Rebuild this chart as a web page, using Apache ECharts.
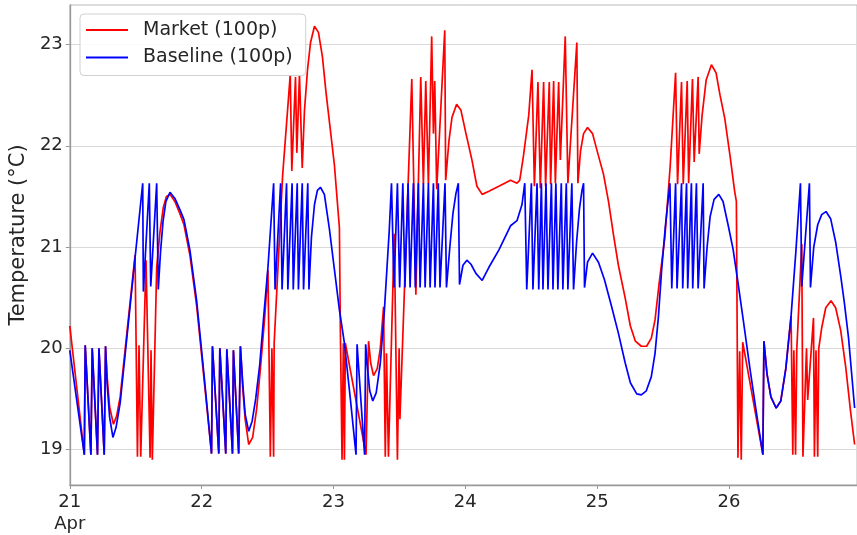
<!DOCTYPE html>
<html>
<head>
<meta charset="utf-8">
<script src="https://cdn.jsdelivr.net/npm/echarts@6/dist/echarts.min.js"></script>
<style>
html,body{margin:0;padding:0;background:#fff;}
#chart{width:857px;height:535px;}
</style>
</head>
<body>
<div id="chart"></div>
<script>
// ---- data (x = day of April, y = temperature in °C) ----
const seriesNames = ['Market (100p)', 'Baseline (100p)'];

const xTicks = [21, 22, 23, 24, 25, 26];
const xTickLabels = ['21\nApr', '22', '23', '24', '25', '26'];
const yTicks = [19, 20, 21, 22, 23];
const yTickLabels = ['19', '20', '21', '22', '23'];

const baselineTimes = [
21.000,21.110,21.117,21.160,21.170,21.210,21.221,21.261,21.271,21.283,21.302,21.327,21.351,21.382,
21.553,21.558,21.603,21.614,21.659,21.671,21.688,21.707,21.729,21.760,21.797,21.835,21.866,21.911,21.962,
22.024,22.075,22.082,22.130,22.138,22.183,22.191,22.234,22.241,22.281,22.294,22.312,22.330,22.357,22.383,
22.410,22.440,22.470,22.503,22.546,22.557,22.599,22.610,22.644,22.654,22.686,22.695,22.725,22.734,22.763,
22.773,22.805,22.814,22.833,22.856,22.878,22.901,22.931,22.969,23.007,23.045,23.083,23.128,23.171,23.179,
23.236,23.244,23.260,23.275,23.298,23.324,23.355,23.385,23.423,23.440,23.459,23.485,23.502,23.526,23.542,
23.566,23.581,23.606,23.621,23.644,23.657,23.682,23.695,23.720,23.733,23.758,23.770,23.795,23.808,23.846,
23.857,23.884,23.906,23.929,23.947,23.956,23.982,24.012,24.043,24.080,24.128,24.179,24.254,24.343,24.392,
24.430,24.451,24.466,24.501,24.513,24.544,24.557,24.577,24.589,24.612,24.627,24.653,24.665,24.687,24.702,
24.728,24.740,24.766,24.778,24.808,24.821,24.844,24.866,24.885,24.897,24.904,24.927,24.965,25.010,25.055,
25.108,25.161,25.212,25.252,25.300,25.335,25.373,25.411,25.439,25.464,25.489,25.517,25.552,25.566,25.595,
25.606,25.640,25.649,25.678,25.687,25.715,25.725,25.753,25.766,25.804,25.811,25.834,25.857,25.887,25.923,
25.955,25.993,26.031,26.068,26.106,26.159,26.204,26.257,26.265,26.288,26.318,26.358,26.393,26.431,26.471,
26.507,26.542,26.552,26.610,26.618,26.643,26.673,26.703,26.736,26.771,26.809,26.849,26.875,26.907,26.953
];
const baselineTemps = [
19.98,18.95,20.03,18.95,20.00,18.95,20.00,18.95,20.02,19.65,19.32,19.12,19.22,19.46,
21.63,20.56,21.63,20.61,21.63,20.58,20.95,21.25,21.45,21.54,21.48,21.37,21.27,20.97,20.47,
19.66,18.96,20.02,18.96,20.00,18.96,19.99,18.96,19.98,18.96,20.02,19.65,19.35,19.18,19.28,
19.50,19.83,20.30,20.80,21.63,20.58,21.63,20.58,21.63,20.58,21.63,20.58,21.63,20.58,21.63,
20.58,21.63,20.58,21.10,21.42,21.56,21.59,21.52,21.18,20.78,20.38,20.05,19.50,18.95,20.04,
18.95,20.04,19.78,19.58,19.48,19.56,19.85,20.35,21.16,21.63,20.60,21.63,20.60,21.63,20.60,
21.63,20.60,21.63,20.60,21.63,20.60,21.63,20.60,21.63,20.60,21.63,20.60,21.63,20.60,21.63,
20.60,21.02,21.33,21.53,21.63,20.63,20.82,20.87,20.83,20.74,20.67,20.80,20.97,21.21,21.26,
21.42,21.63,20.58,21.63,20.58,21.63,20.58,21.63,20.58,21.63,20.58,21.63,20.58,21.63,20.58,
21.63,20.58,21.63,20.58,21.63,20.58,21.05,21.38,21.56,21.63,20.60,20.85,20.94,20.85,20.68,
20.42,20.15,19.86,19.66,19.55,19.54,19.58,19.72,19.95,20.30,20.77,21.20,21.63,20.59,21.63,
20.59,21.63,20.59,21.63,20.59,21.63,20.59,21.63,20.59,21.63,20.59,21.00,21.30,21.47,21.52,
21.45,21.22,20.98,20.65,20.30,19.80,19.40,18.95,20.07,19.75,19.52,19.41,19.48,19.80,20.32,
20.95,21.63,20.61,21.63,20.60,21.00,21.22,21.32,21.35,21.28,21.05,20.70,20.45,20.10,19.41
];

const marketTimes = [
21.000,21.110,21.117,21.160,21.170,21.210,21.221,21.261,21.271,21.283,21.302,21.331,21.355,21.382,
21.495,21.513,21.525,21.538,21.578,21.609,21.616,21.626,21.659,21.684,21.709,21.733,21.760,21.797,21.835,
21.866,21.911,21.962,22.024,22.075,22.082,22.130,22.138,22.183,22.191,22.234,22.241,22.281,22.294,22.312,
22.330,22.357,22.387,22.417,22.448,22.478,22.503,22.521,22.533,22.546,22.550,22.614,22.672,22.684,22.712,
22.722,22.742,22.763,22.780,22.803,22.826,22.856,22.886,22.916,22.944,22.977,23.007,23.045,23.052,23.065,
23.075,23.083,23.090,23.247,23.266,23.283,23.304,23.332,23.355,23.380,23.393,23.402,23.417,23.461,23.485,
23.498,23.504,23.594,23.625,23.662,23.682,23.700,23.720,23.745,23.758,23.768,23.783,23.844,23.851,23.876,
23.899,23.934,23.967,24.005,24.050,24.088,24.128,24.179,24.254,24.343,24.392,24.413,24.441,24.481,24.506,
24.524,24.551,24.569,24.594,24.609,24.637,24.647,24.670,24.683,24.708,24.721,24.758,24.778,24.846,24.854,
24.874,24.897,24.927,24.965,25.010,25.048,25.086,25.124,25.161,25.212,25.252,25.290,25.335,25.375,25.411,
25.439,25.471,25.514,25.554,25.595,25.610,25.640,25.653,25.683,25.694,25.723,25.736,25.766,25.774,25.796,
25.827,25.867,25.902,25.932,25.968,26.008,26.043,26.056,26.068,26.081,26.093,26.104,26.257,26.265,26.288,
26.318,26.358,26.393,26.431,26.471,26.484,26.492,26.505,26.514,26.552,26.561,26.588,26.597,26.641,26.648,
26.660,26.673,26.681,26.703,26.734,26.774,26.809,26.847,26.885,26.922,26.953
];
const marketTemps = [
20.22,18.95,20.03,18.95,20.00,18.95,20.00,18.95,20.02,19.72,19.42,19.25,19.33,19.52,
20.92,18.93,20.03,18.93,20.87,18.92,19.98,18.90,20.80,21.15,21.39,21.50,21.52,21.45,21.33,
21.22,20.92,20.42,19.62,18.96,20.02,18.96,20.00,18.96,19.99,18.96,19.98,18.96,20.02,19.60,
19.30,19.05,19.12,19.40,19.83,20.30,20.77,18.93,20.00,18.93,20.05,21.70,22.70,21.75,22.68,
21.93,22.70,21.78,22.35,22.75,23.02,23.18,23.12,22.88,22.52,22.15,21.81,21.19,20.20,18.90,
20.05,18.90,20.05,18.95,20.07,19.85,19.73,19.80,20.00,20.41,18.93,19.95,18.93,21.13,18.90,
20.00,19.30,22.66,20.53,22.68,21.62,22.64,21.62,23.08,22.12,22.64,21.57,23.14,21.66,22.05,
22.28,22.41,22.35,22.12,21.86,21.60,21.52,21.55,21.60,21.66,21.63,21.66,21.90,22.30,22.75,
21.60,22.63,21.58,22.63,21.60,22.63,21.62,22.64,21.63,22.63,21.86,23.08,21.63,23.02,21.63,
21.95,22.12,22.18,22.12,21.90,21.72,21.45,21.12,20.82,20.50,20.22,20.07,20.02,20.02,20.10,
20.28,20.65,21.10,21.80,22.72,21.62,22.63,21.62,22.64,21.63,22.66,21.84,22.68,21.92,22.30,
22.65,22.80,22.72,22.50,22.27,21.90,21.55,21.45,18.92,19.97,18.90,20.06,18.95,20.07,19.75,
19.52,19.41,19.48,19.80,20.32,18.95,19.98,18.95,19.98,21.03,18.93,20.00,19.49,20.30,18.93,
19.98,18.93,20.00,20.20,20.40,20.47,20.40,20.18,19.82,19.38,19.05
];

function pairs(xs, ys) { return xs.map((x, i) => [x, ys[i]]); }

const chart = echarts.init(document.getElementById('chart'), null, {renderer: 'canvas'});
const FONT = 'DejaVu Sans';
chart.setOption({
  animation: false,
  backgroundColor: '#ffffff',
  grid: {left: 69, right: -2, top: 5, bottom: 45, show: true, borderColor: '#b8b8b8', borderWidth: 1, backgroundColor: 'transparent'},
  legend: {
    data: seriesNames,
    orient: 'vertical',
    left: 80, top: 14,
    icon: 'rect',
    itemWidth: 42, itemHeight: 2, itemGap: 7.5,
    padding: [6, 13, 8, 6],
    borderColor: '#d0d0d0', borderWidth: 1, borderRadius: 4,
    backgroundColor: 'rgba(255,255,255,0.85)',
    textStyle: {fontFamily: FONT, fontSize: 19, color: '#262626', lineHeight: 20, padding: [0, 0, 0, 10]}
  },
  xAxis: {
    type: 'value',
    min: 21, max: 26.971, interval: 1,
    axisLine: {show: true, lineStyle: {color: '#999999', width: 1.3}},
    axisTick: {show: true, length: 4, lineStyle: {color: '#999999'}, customValues: xTicks},
    splitLine: {show: false},
    axisLabel: {
      customValues: xTicks,
      fontFamily: FONT, fontSize: 18, color: '#262626', margin: 6, lineHeight: 22,
      formatter: function (v) { const i = xTicks.indexOf(Math.round(v * 1000) / 1000); return i >= 0 ? xTickLabels[i] : ''; }
    }
  },
  yAxis: {
    type: 'value',
    min: 18.65, max: 23.39,
    name: 'Temperature (°C)', nameLocation: 'middle', nameGap: 35, nameRotate: 90,
    nameTextStyle: {fontFamily: FONT, fontSize: 21, color: '#262626', padding: [0, 0, 0, 20]},
    axisLine: {show: true, lineStyle: {color: '#999999', width: 1.3}},
    axisTick: {show: true, length: 4, lineStyle: {color: '#999999'}, customValues: yTicks},
    splitLine: {show: true, lineStyle: {color: '#d9d9d9', width: 1.2}},
    axisLabel: {
      customValues: yTicks,
      fontFamily: FONT, fontSize: 18, color: '#262626', margin: 7,
      formatter: function (v) { const i = yTicks.indexOf(Math.round(v * 1000) / 1000); return i >= 0 ? yTickLabels[i] : ''; }
    }
  },
  series: [
    {name: seriesNames[0], type: 'line', data: pairs(marketTimes, marketTemps), symbol: 'none', showSymbol: false,
     lineStyle: {color: '#ff0000', width: 1.7}, itemStyle: {color: '#ff0000'}, clip: true},
    {name: seriesNames[1], type: 'line', data: pairs(baselineTimes, baselineTemps), symbol: 'none', showSymbol: false,
     lineStyle: {color: '#0000ff', width: 1.7}, itemStyle: {color: '#0000ff'}, clip: true}
  ]
});
</script>
</body>
</html>
